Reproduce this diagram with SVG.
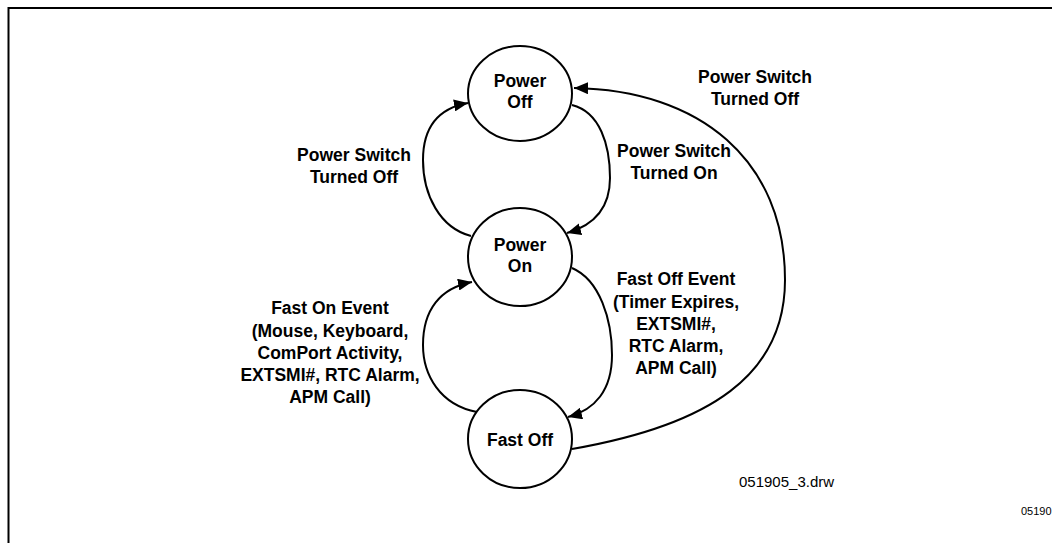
<svg xmlns="http://www.w3.org/2000/svg" width="1052" height="543" viewBox="0 0 1052 543">
<style>
.frame{fill:none;stroke:#000;stroke-width:2}
.state{fill:#fff;stroke:#000;stroke-width:2}
.edge{fill:none;stroke:#000;stroke-width:2;marker-end:url(#arrow)}
.lbl{font-family:"Liberation Sans",Arial,sans-serif;font-weight:bold;font-size:17.5px;fill:#000;text-anchor:middle}
.note{font-family:"Liberation Sans",Arial,sans-serif;font-size:15px;fill:#000}
.small{font-family:"Liberation Sans",Arial,sans-serif;font-size:11px;fill:#000}
</style>
<defs>
<marker id="arrow" markerUnits="userSpaceOnUse" markerWidth="15" markerHeight="12" refX="14" refY="6" orient="auto">
<path d="M0,0 L14,6 L0,12 z" fill="#000"/>
</marker>
</defs>
<rect width="1052" height="543" fill="#fff"/>
<path class="frame" d="M8.5,545 L8.5,8 L1054,8"/>

<g id="connectors">
<path class="edge" d="M572,105 C600,112 610,145 610,178 C610,208 595,225 567,233"/>
<path class="edge" d="M471,236 C440,228 423,195 423,160 C423,125 440,108 468,103"/>
<path class="edge" d="M572,268 C600,280 612,320 612,355 C612,390 595,410 568,417"/>
<path class="edge" d="M477,412 C440,405 423,375 423,345 C423,310 440,288 472,282"/>
<path class="edge" d="M572,449 C710,425 785,375 785,280 C785,160 700,90 574,88"/>
</g>

<g id="power-off">
<ellipse class="state" cx="520" cy="93.5" rx="52" ry="47.5"/>
<text class="lbl" x="520" y="87">Power</text>
<text class="lbl" x="520" y="108">Off</text>
</g>
<g id="power-on">
<ellipse class="state" cx="520" cy="257" rx="52" ry="49"/>
<text class="lbl" x="520" y="251">Power</text>
<text class="lbl" x="520" y="272">On</text>
</g>
<g id="fast-off">
<ellipse class="state" cx="520" cy="439" rx="52" ry="49"/>
<text class="lbl" x="520" y="446">Fast Off</text>
</g>

<g id="labels">
<text class="lbl" x="755" y="83">Power Switch</text>
<text class="lbl" x="755" y="105">Turned Off</text>
<text class="lbl" x="674" y="157">Power Switch</text>
<text class="lbl" x="674" y="179">Turned On</text>
<text class="lbl" x="354" y="161">Power Switch</text>
<text class="lbl" x="354" y="183">Turned Off</text>
<text class="lbl" x="330" y="314">Fast On Event</text>
<text class="lbl" x="330" y="336.5">(Mouse, Keyboard,</text>
<text class="lbl" x="330" y="359">ComPort Activity,</text>
<text class="lbl" x="330" y="381">EXTSMI#, RTC Alarm,</text>
<text class="lbl" x="330" y="403">APM Call)</text>
<text class="lbl" x="676" y="285">Fast Off Event</text>
<text class="lbl" x="676" y="307.5">(Timer Expires,</text>
<text class="lbl" x="676" y="330">EXTSMI#,</text>
<text class="lbl" x="676" y="352">RTC Alarm,</text>
<text class="lbl" x="676" y="374">APM Call)</text>
<text class="note" x="739" y="487">051905_3.drw</text>
<text class="small" x="1021" y="515">05190</text>
</g>
</svg>
